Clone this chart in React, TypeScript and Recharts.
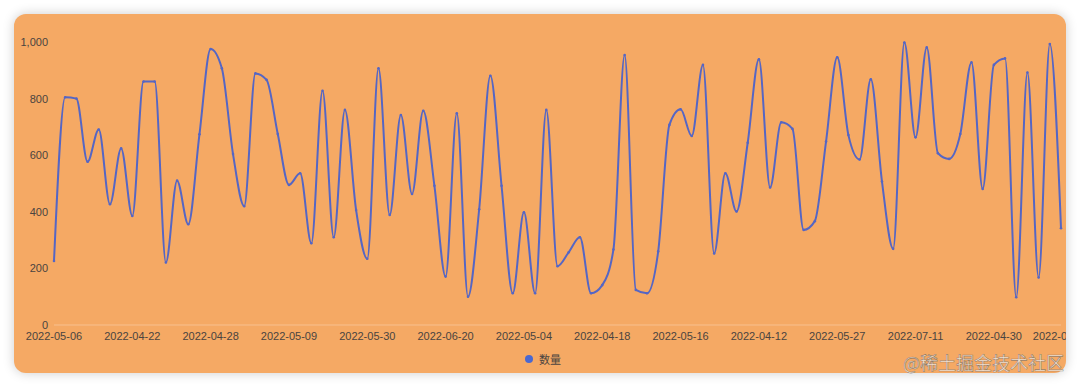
import React from 'react';
import { LineChart, Line, XAxis, YAxis, Legend } from 'recharts';

const dates: string[] = [
  '2022-05-06', '2022-06-11', '2022-04-15', '2022-05-21', '2022-06-02', '2022-07-03', '2022-04-09',
  '2022-04-22', '2022-05-13', '2022-06-27', '2022-04-04', '2022-05-18', '2022-07-08', '2022-06-14',
  '2022-04-28', '2022-05-25', '2022-06-06', '2022-04-19', '2022-07-15', '2022-05-01', '2022-06-23',
  '2022-05-09', '2022-04-13', '2022-06-30', '2022-05-15', '2022-04-07', '2022-07-01', '2022-06-17',
  '2022-05-30', '2022-04-24', '2022-06-09', '2022-05-19', '2022-07-12', '2022-04-16', '2022-06-25',
  '2022-06-20', '2022-05-03', '2022-04-10', '2022-07-06', '2022-05-23', '2022-06-12', '2022-04-26',
  '2022-05-04', '2022-06-28', '2022-04-05', '2022-05-11', '2022-07-09', '2022-06-04', '2022-04-21',
  '2022-04-18', '2022-05-28', '2022-06-15', '2022-04-08', '2022-07-13', '2022-05-07', '2022-06-19',
  '2022-05-16', '2022-04-29', '2022-06-07', '2022-07-04', '2022-05-22', '2022-04-14', '2022-06-24',
  '2022-04-12', '2022-05-17', '2022-07-10', '2022-06-01', '2022-04-23', '2022-05-31', '2022-06-16',
  '2022-05-27', '2022-04-06', '2022-06-21', '2022-07-02', '2022-05-12', '2022-04-17', '2022-06-29',
  '2022-07-11', '2022-05-05', '2022-04-25', '2022-06-13', '2022-05-20', '2022-07-07', '2022-04-11',
  '2022-04-30', '2022-06-05', '2022-05-14', '2022-07-14', '2022-04-20', '2022-06-18', '2022-06-08',
];

const counts: number[] = [
  226, 805, 800, 577, 691, 427, 624, 385, 860, 860,
  221, 510, 356, 674, 975, 907, 604, 420, 889, 866,
  675, 495, 536, 289, 828, 310, 760, 406, 234, 907,
  389, 742, 463, 757, 492, 171, 748, 100, 409, 881,
  492, 112, 398, 112, 760, 208, 257, 310, 112, 141,
  267, 954, 124, 112, 260, 707, 762, 668, 919, 253,
  536, 401, 644, 939, 486, 716, 693, 336, 367, 648,
  946, 671, 585, 868, 507, 269, 998, 663, 981, 607,
  587, 675, 928, 481, 919, 942, 98, 892, 168, 993,
  342,
];

const yTicks: number[] = [0, 200, 400, 600, 800, 1000];
const labelEvery = 7;
const seriesName = '数量';

const data = dates.map((d, i) => ({ date: d, value: counts[i] }));

const LINE = '#5566C4';
const TEXT = '#4a4440';
const FONT = "'Liberation Sans', Arial, 'Noto Sans CJK SC', sans-serif";

const LegendContent = () => (
  <div
    style={{
      display: 'flex',
      justifyContent: 'center',
      alignItems: 'center',
      height: 16,
      fontSize: 11,
      color: TEXT,
      fontFamily: FONT,
    }}
  >
    <svg width={8} height={8} style={{ marginRight: 6, marginLeft: 6 }}>
      <circle cx={4} cy={4} r={4} fill="#4A68D0" />
    </svg>
    <span>{seriesName}</span>
  </div>
);

export default function App() {
  const lastIndex = data.length - 1;
  return (
    <div
      style={{
        position: 'absolute',
        left: 0,
        top: 0,
        width: 1080,
        height: 388,
        background: '#ffffff',
        overflow: 'hidden',
        fontFamily: FONT,
      }}
    >
      <div
        style={{
          position: 'absolute',
          left: 14,
          top: 14,
          width: 1052,
          height: 359,
          borderRadius: 12,
          background: '#F5A964',
          overflow: 'hidden',
          boxShadow: '0 0 12px rgba(0,0,0,0.2)',
        }}
      >
        <LineChart
          width={1052}
          height={359}
          data={data}
          margin={{ top: 28, right: 5, left: 0, bottom: 2 }}
          style={{ fontFamily: FONT }}
        >
          <XAxis
            dataKey="date"
            interval={0}
            height={30}
            tickLine={false}
            tickSize={0}
            tickMargin={7}
            axisLine={{ stroke: '#F8C08F', strokeWidth: 1 }}
            tick={{ fill: TEXT, fontSize: 11 }}
            tickFormatter={(v: string, i: number) =>
              i % labelEvery === 0 || i === lastIndex ? v : ''
            }
          />
          <YAxis
            width={40}
            domain={[0, 1000]}
            ticks={yTicks}
            axisLine={false}
            tickLine={false}
            tickSize={0}
            tickMargin={6}
            tick={{ fill: TEXT, fontSize: 11 }}
            tickFormatter={(v: number) => v.toLocaleString('en-US')}
          />
          <Legend
            verticalAlign="bottom"
            content={() => <LegendContent />}
            wrapperStyle={{ left: 0, width: 1052, top: 337 }}
          />
          <Line
            type="monotone"
            dataKey="value"
            name={seriesName}
            stroke={LINE}
            strokeWidth={2}
            dot={{ r: 1.3, fill: LINE, stroke: 'none' }}
            activeDot={false}
            isAnimationActive={false}
          />
        </LineChart>
      </div>
      <div
        style={{
          position: 'absolute',
          left: 903,
          top: 350,
          fontSize: 18,
          fontFamily: "'Noto Sans CJK SC', sans-serif",
          color: 'rgba(255,255,255,0.7)',
          WebkitTextStroke: '0.6px rgba(80,80,80,0.6)',
          whiteSpace: 'nowrap',
          lineHeight: '24px',
        }}
      >
        @稀土掘金技术社区
      </div>
    </div>
  );
}
